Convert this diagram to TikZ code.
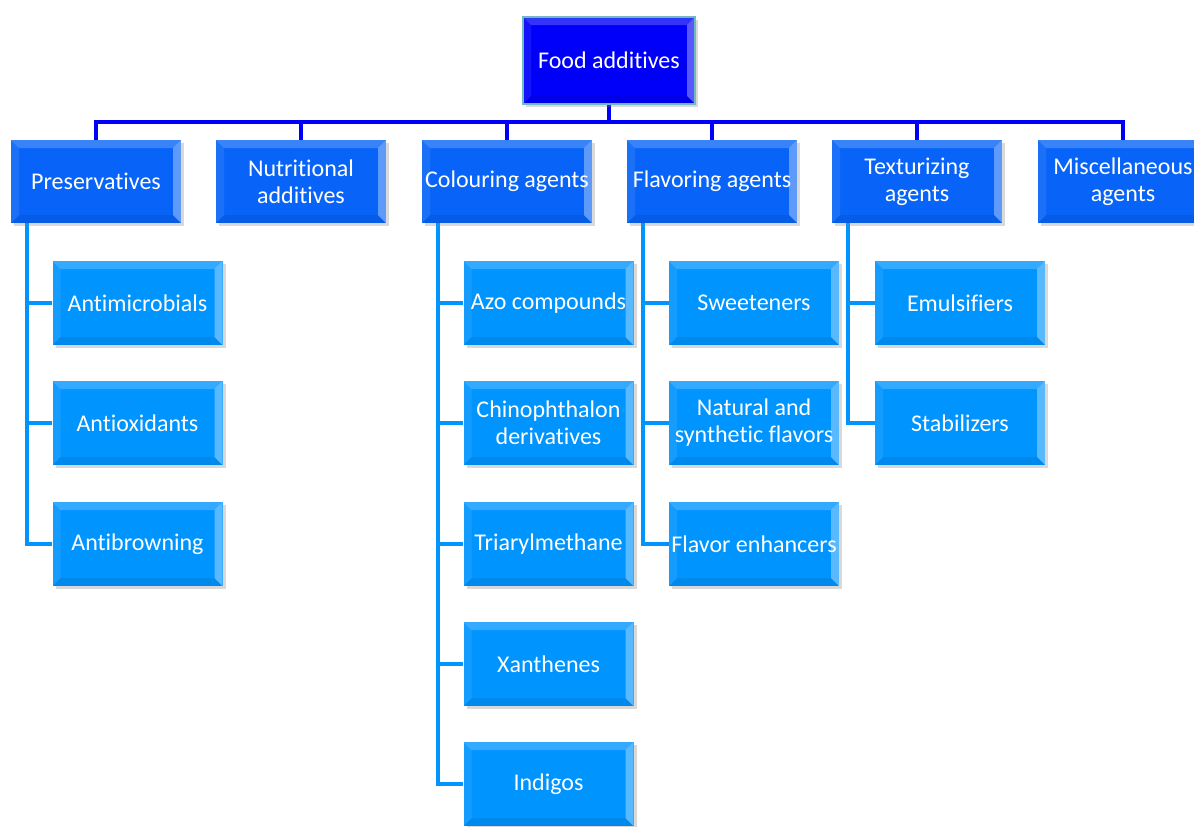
\documentclass[tikz,border=0pt]{standalone}
\usepackage{fontspec}
\setmainfont{Carlito}[RawFeature=-liga]
\usetikzlibrary{calc,shadows,backgrounds}
\definecolor{rootblue}{RGB}{0,0,250}
\definecolor{catblue}{RGB}{8,100,248}
\definecolor{subblue}{RGB}{0,148,255}
\definecolor{rimteal}{RGB}{110,185,195}
\tikzset{
  bevel/.style   = {path picture={
                      \path (path picture bounding box.north west) coordinate (bnw)
                            (path picture bounding box.north east) coordinate (bne)
                            (path picture bounding box.south west) coordinate (bsw)
                            (path picture bounding box.south east) coordinate (bse);
                      \fill[white,opacity=.20] (bnw) -- (bne) -- ($(bne)+(-4pt,-4pt)$) -- ($(bnw)+(4pt,-4pt)$) -- cycle;
                      \fill[white,opacity=.08] (bnw) -- (bsw) -- ($(bsw)+(4pt,4pt)$) -- ($(bnw)+(4pt,-4pt)$) -- cycle;
                      \fill[white,opacity=.35] (bne) -- (bse) -- ($(bse)+(-4pt,4pt)$) -- ($(bne)+(-4pt,-4pt)$) -- cycle;
                      \fill[black,opacity=.07] (bsw) -- (bse) -- ($(bse)+(-4pt,4pt)$) -- ($(bsw)+(4pt,4pt)$) -- cycle;
                    }},
  box/.style     = {rectangle, bevel, text=white, align=center, inner sep=0pt,
                    font=\fontsize{12}{13.5}\selectfont,
                    drop shadow={shadow xshift=1.5pt, shadow yshift=-1.5pt, opacity=.3}},
  rootbox/.style = {box, fill=rootblue, draw=rimteal, line width=.6pt,
                    minimum width=86pt, minimum height=43.5pt},
  catbox/.style  = {box, fill=catblue, minimum width=85pt, minimum height=41.5pt},
  subbox/.style  = {box, fill=subblue, minimum width=85pt, minimum height=42pt},
  trunk/.style   = {line width=2.4pt, rootblue},
  twig/.style    = {line width=2pt, subblue},
}
\begin{document}
\begin{tikzpicture}[x=0.5pt, y=-0.5pt]
  \useasboundingbox (0,0) rectangle (1194,826);

  % top
  \node[rootbox] (root) at (609,60.5) {Food additives};

  % categories
  \node[catbox] (pres) at (96,181.5)   {Preservatives};
  \node[catbox] (nutr) at (301,181.5)  {Nutritional\\additives};
  \node[catbox] (colr) at (507,181.5)  {Colouring agents};
  \node[catbox] (flav) at (712,181.5)  {Flavoring agents};
  \node[catbox] (textr) at (917,181.5) {Texturizing\\agents};
  \node[catbox] (misc) at (1123,181.5) {Miscellaneous\\agents};

  % preservatives
  \node[subbox] (antimic) at (137.5,303) {Antimicrobials};
  \node[subbox] (antiox)  at (137.5,423) {Antioxidants};
  \node[subbox] (antibr)  at (137.5,544) {Antibrowning};

  % colouring agents
  \node[subbox] (azo)     at (548.5,303) {Azo compounds};
  \node[subbox] (chino)   at (548.5,423) {Chinophthalon\\derivatives};
  \node[subbox] (triaryl) at (548.5,544) {Triarylmethane};
  \node[subbox] (xanth)   at (548.5,664) {Xanthenes};
  \node[subbox] (indigo)  at (548.5,784) {Indigos};

  % flavoring agents
  \node[subbox] (sweet)   at (754,303) {Sweeteners};
  \node[subbox] (natflav) at (754,423) {Natural and\\synthetic flavors};
  \node[subbox] (enhance) at (754,544) {Flavor enhancers};

  % texturizing agents
  \node[subbox] (emuls)   at (960,303) {Emulsifiers};
  \node[subbox] (stab)    at (960,423) {Stabilizers};

  \begin{pgfonlayer}{background}
    % bus
    \coordinate (bus) at (609,122);
    \draw[trunk] (root.south) -- (bus);
    \draw[trunk] (pres.north) |- (misc.north |- bus) -- (misc.north);
    \foreach \c in {nutr,colr,flav,textr}
      \draw[trunk] (\c.north) -- (\c.north |- bus);

    % rails
    \coordinate (presrail) at ($(pres.south west)+(8pt,0)$);
    \coordinate (colrrail) at ($(colr.south west)+(8pt,0)$);
    \coordinate (flavrail) at ($(flav.south west)+(8pt,0)$);
    \coordinate (textrrail) at ($(textr.south west)+(8pt,0)$);
    \draw[twig] (presrail) |- (antibr.west);
    \draw[twig] (colrrail) |- (indigo.west);
    \draw[twig] (flavrail) |- (enhance.west);
    \draw[twig] (textrrail) |- (stab.west);
    \foreach \c in {antimic,antiox}
      \draw[twig] (\c.west) -- (\c.west -| presrail);
    \foreach \c in {azo,chino,triaryl,xanth}
      \draw[twig] (\c.west) -- (\c.west -| colrrail);
    \foreach \c in {sweet,natflav}
      \draw[twig] (\c.west) -- (\c.west -| flavrail);
    \draw[twig] (emuls.west) -- (emuls.west -| textrrail);
  \end{pgfonlayer}
\end{tikzpicture}
\end{document}
